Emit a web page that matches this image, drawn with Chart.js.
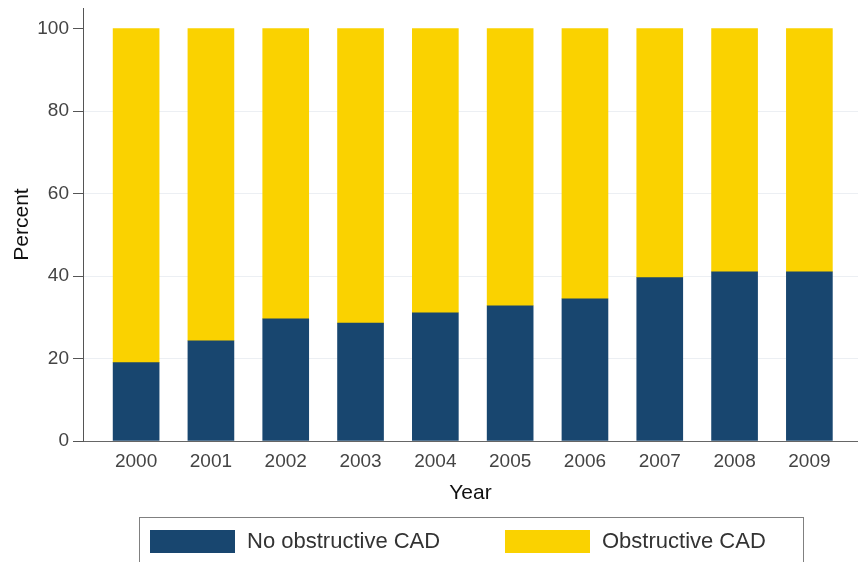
<!DOCTYPE html>
<html>
<head>
<meta charset="utf-8">
<script src="https://cdn.jsdelivr.net/npm/chart.js@4"></script>
<style>
  html, body { margin: 0; padding: 0; background: #fff; }
  #wrap { width: 858px; height: 562px; }
</style>
</head>
<body>
<div id="wrap"><canvas id="my-chart" width="858" height="562"></canvas></div>
<script>
'use strict';

// ******* DATA *********
let years = [2000, 2001, 2002, 2003, 2004, 2005, 2006, 2007, 2008, 2009];
let noObstructive = [19.0, 24.3, 29.6, 28.6, 31.1, 32.8, 34.5, 39.6, 41.0, 41.0];
let obstructive = [81.0, 75.7, 70.4, 71.4, 68.9, 67.2, 65.5, 60.4, 59.0, 59.0];
let yTicks = [0, 20, 40, 60, 80, 100];
let seriesNames = ['No obstructive CAD', 'Obstructive CAD'];

let navy = '#18466f';
let gold = '#fad200';
let fontFam = '"Liberation Sans", Arial, sans-serif';

function toPoints(values) {
  let pts = [];
  for (let i = 0; i < years.length; i++) {
    pts.push({ x: years[i], y: values[i] });
  }
  return pts;
}

// ****** boxed legend like the stata one ******
let boxLegend = {
  id: 'boxLegend',
  afterDraw(chart) {
    let ctx = chart.ctx;
    let sets = chart.data.datasets;
    let slots = [150, 505];
    ctx.save();
    ctx.strokeStyle = '#808080';
    ctx.lineWidth = 1;
    ctx.strokeRect(139.5, 517.5, 664, 60);
    ctx.font = '22px ' + fontFam;
    ctx.textBaseline = 'middle';
    for (let i = 0; i < sets.length; i++) {
      ctx.fillStyle = sets[i].backgroundColor;
      ctx.fillRect(slots[i], 530, 85, 23);
      ctx.fillStyle = '#333';
      ctx.fillText(sets[i].label, slots[i] + 97, 542);
    }
    ctx.restore();
  }
};

let ctx = document.getElementById('my-chart');

let chartObj = {
  type: 'bar',
  data: {
    datasets: [{
      label: seriesNames[0],
      data: toPoints(noObstructive),
      backgroundColor: navy,
      barThickness: 46
    },
    {
      label: seriesNames[1],
      data: toPoints(obstructive),
      backgroundColor: gold,
      barThickness: 46
    }]
  },
  options: {
    responsive: false,
    animation: false,
    layout: { padding: { top: 8, right: 0, bottom: 56, left: 0 } },
    plugins: {
      legend: { display: false },
      tooltip: { enabled: false }
    },
    scales: {
      x: {
        type: 'linear',
        stacked: true,
        offset: false,
        min: 1999.29,
        max: 2009.65,
        afterBuildTicks: function (scale) {
          scale.ticks = years.map(function (y) { return { value: y }; });
        },
        afterFit: function (scale) {
          scale.height = 65;
          scale.paddingLeft = 0;
          scale.paddingRight = 0;
        },
        ticks: {
          callback: function (v) { return String(v); },
          color: '#444',
          font: { family: fontFam, size: 19 },
          padding: 9,
          maxRotation: 0
        },
        grid: { display: false, drawTicks: false, offset: false },
        border: { display: true, color: '#666', width: 1 },
        title: {
          display: true,
          text: 'Year',
          color: '#111',
          font: { family: fontFam, size: 21 },
          padding: { top: 2, bottom: 0 }
        }
      },
      y: {
        stacked: true,
        min: 0,
        max: 105,
        afterBuildTicks: function (scale) {
          scale.ticks = yTicks.map(function (v) { return { value: v }; });
        },
        afterFit: function (scale) {
          scale.width = 83;
          scale.paddingTop = 0;
          scale.paddingBottom = 0;
        },
        ticks: {
          color: '#444',
          font: { family: fontFam, size: 19 },
          padding: 4
        },
        grid: {
          color: function (c) {
            return (c.tick && c.tick.value > 0 && c.tick.value < 100) ? '#eceff3' : 'rgba(0,0,0,0)';
          },
          tickColor: '#555',
          tickLength: 10,
          drawTicks: true
        },
        border: { display: true, color: '#555', width: 1 },
        title: {
          display: true,
          text: 'Percent',
          color: '#111',
          font: { family: fontFam, size: 21 },
          padding: { top: 10, bottom: 0 }
        }
      }
    }
  },
  plugins: [boxLegend]
};

new Chart(ctx, chartObj); //eslint-disable-line
</script>
</body>
</html>
